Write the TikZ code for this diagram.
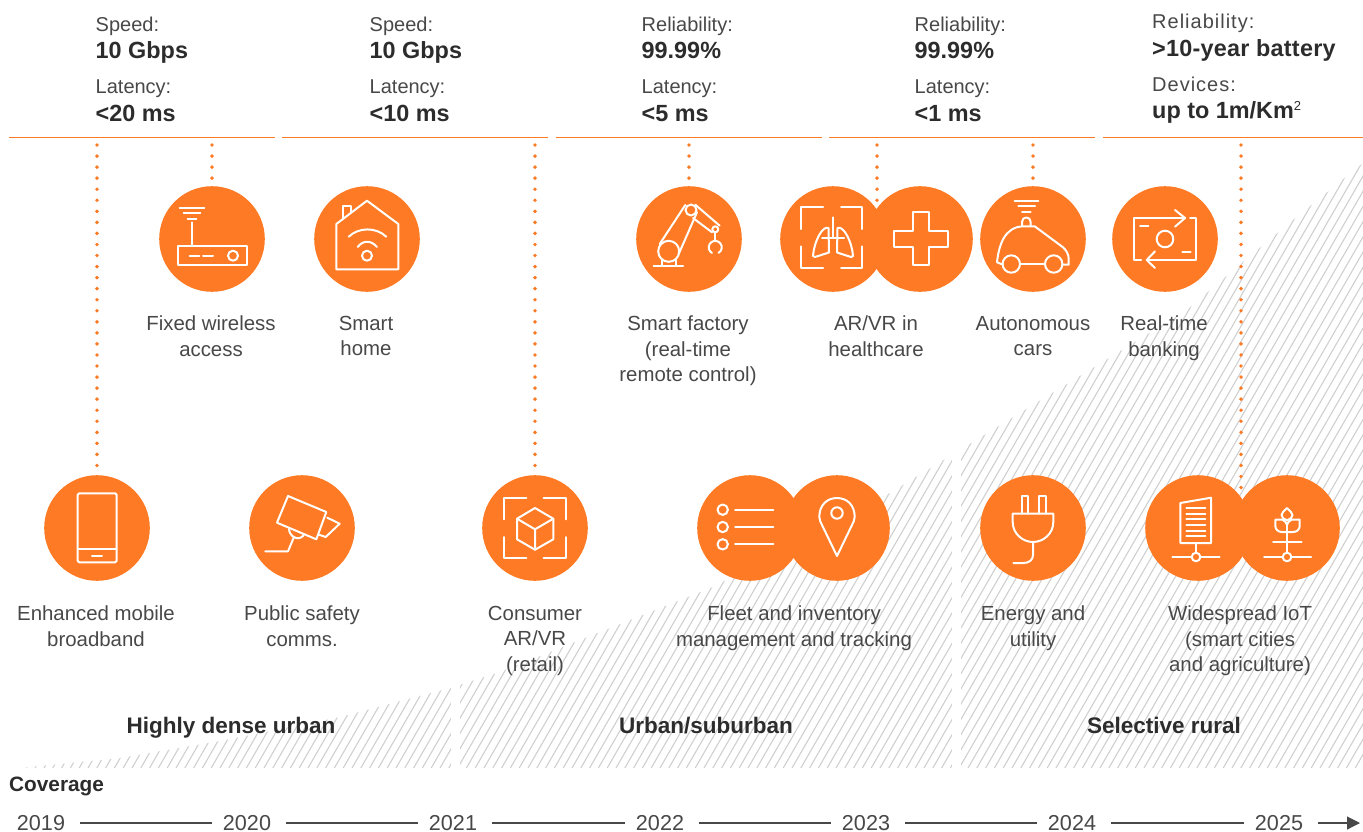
\documentclass[tikz,border=0pt]{standalone}
\usepackage{fontspec}
\setmainfont{Liberation Sans}
\usetikzlibrary{arrows.meta}
\definecolor{fiveg}{HTML}{FF7A24}
\definecolor{hatchgrey}{HTML}{CFCFCF}
\definecolor{plaintext}{HTML}{484848}
\definecolor{strongtext}{HTML}{2C2C2C}
\tikzset{
  ball/.style={circle,fill=fiveg,minimum size=105.6pt,inner sep=0pt},
  iconline/.style={draw=white,line width=2pt,line join=round,line cap=round},
  dotline/.style={draw=fiveg,line width=3.9pt,line cap=round,dash pattern=on 0pt off 11.05pt},
  rulerline/.style={draw=fiveg,line width=1.5pt},
  hatchline/.style={draw=hatchgrey,line width=1.1pt},
  plainlabel/.style={font=\fontsize{20.4}{25.5}\selectfont,text=plaintext,align=center,anchor=north,inner sep=0pt},
  headplain/.style={font=\fontsize{20}{24}\selectfont,text=plaintext,anchor=base west,inner sep=0pt},
  headstrong/.style={font=\fontsize{23.4}{26}\selectfont\bfseries,text=strongtext,anchor=base west,inner sep=0pt},
  zonelabel/.style={font=\fontsize{22.5}{26}\selectfont\bfseries,text=strongtext,anchor=base,inner sep=0pt},
  yearlabel/.style={font=\fontsize{21.6}{24}\selectfont,text=plaintext,inner sep=0pt},
  yearline/.style={draw=plaintext,line width=1.1pt,shorten <=15pt,shorten >=11pt}
}
\begin{document}
\begin{tikzpicture}
  [x=1pt,y=-1pt]
  \useasboundingbox (0,0) rectangle (1363,831);
  \begin{scope}
    \clip (20,768) -- (120,758) -- (220,741) -- (340,717) -- (450,688) -- (500,672) -- (713,587)
      -- (890,493) -- (960,450) -- (1187,310) -- (1237,267) -- (1293,220) -- (1363,163) -- (1363,768) -- cycle;
    \foreach \hx in {0,8.8,...,1370}
      \draw[hatchline] (\hx,768) -- ++(370,-640);
  \end{scope}
  \fill[white] (451,660) rectangle (460,770);
  \fill[white] (952,430) rectangle (961,770);

  \foreach \name/\x/\y in {router/212/239,home/367/239,factory/689/239,lung/833/239,
    cross/920/239,car/1033/239,bank/1165/239,phone/97/528,camera/302/528,arvr/535/528,
    fleet/750/528,pin/837/528,plug/1033/528,server/1198/528,plant/1287/528}
    \node[ball] (\name) at (\x,\y) {};

  \foreach \from/\to in {9/275,282/548,556/822,829/1095,1103/1363}
    \draw[rulerline] (\from,137.5) -- (\to,137.5);

  \coordinate (lungdots) at (877,205);
  \coordinate (plantdots) at (1241,491);
  \foreach \x/\to in {97/phone.north,212/router.north,535/arvr.north,689/factory.north,
    877/lungdots,1033/car.north,1241/plantdots}
    \draw[dotline] (\x,145) -- (\to);

  \foreach \col/\x/\aa/\bb/\cc/\dd in {1/95.5/Speed:/10 Gbps/Latency:/{<20 ms},
    2/369.5/Speed:/10 Gbps/Latency:/{<10 ms},3/641.5/Reliability:/99.99\%/Latency:/{<5 ms},
    4/914.5/Reliability:/99.99\%/Latency:/{<1 ms}}
  {
    \node[headplain] (head\col a) at (\x,31) {\aa};
    \node[headstrong] (head\col b) at (\x,58) {\bb};
    \node[headplain] (head\col c) at (\x,93) {\cc};
    \node[headstrong] (head\col d) at (\x,121) {\dd};
  }
  \node[headplain] (head5a) at (1152,28) {\addfontfeature{LetterSpace=5}Reliability:};
  \node[headstrong] (head5b) at (1152,56) {\addfontfeature{LetterSpace=1}>10-year battery};
  \node[headplain] (head5c) at (1152,91) {\addfontfeature{LetterSpace=5}Devices:};
  \node[headstrong] (head5d) at (1152,118) {up to 1m/Km\raisebox{8pt}{\fontsize{13}{13}\selectfont\mdseries 2}};

  \foreach \name/\x/\y/\txt in {
    routerlabel/211/316/{Fixed wireless\\access},
    homelabel/366/316/{Smart\\home},
    factorylabel/688/316/{Smart factory\\(real-time\\remote control)},
    lunglabel/876/316/{AR/VR in\\healthcare},
    carlabel/1033/316/{Autonomous\\cars},
    banklabel/1164/316/{Real-time\\banking},
    phonelabel/96/606/{Enhanced mobile\\broadband},
    cameralabel/302/606/{Public safety\\comms.},
    arvrlabel/535/606/{Consumer\\AR/VR\\(retail)},
    fleetlabel/794/606/{Fleet and inventory\\management and tracking},
    pluglabel/1033/606/{Energy and\\utility},
    plantlabel/1240/606/{Widespread IoT\\(smart cities\\and agriculture)}}
    \node[plainlabel] (\name) at (\x,\y) {\txt};

  \node[zonelabel] (urban) at (231,733) {Highly dense urban};
  \node[zonelabel] (suburban) at (706,733) {Urban/suburban};
  \node[zonelabel] (rural) at (1164,733) {Selective rural};
  \node[font=\fontsize{20.8}{24}\selectfont\bfseries,text=strongtext,anchor=base west,inner sep=0pt] (coverage) at (9,791) {Coverage};

  \foreach \yr/\x in {2019/41,2020/247,2021/453,2022/660,2023/866,2024/1072,2025/1279}
    \node[yearlabel] (y\yr) at (\x,823) {\yr};
  \coordinate (axisend) at (1360,823);
  \foreach \from/\to in {2019/2020,2020/2021,2021/2022,2022/2023,2023/2024,2024/2025}
    \draw[yearline] (y\from) -- (y\to);
  \draw[yearline,shorten >=0pt,-{Triangle[length=13pt,width=13pt]}] (y2025) -- (axisend);

  \begin{scope}[shift={(router)},iconline]
    \draw (-32.3,-30.7) -- (-7.7,-30.7) (-28.3,-25.7) -- (-11.7,-25.7) (-24.3,-20.3) -- (-15.7,-20.3);
    \draw (-20,-16.7) -- (-20,6.7);
    \draw (-34.3,6.7) rectangle (34.7,26.3);
    \draw (-22.3,16.7) -- (-12.7,16.7) (-9,16.7) -- (1,16.7);
    \draw (21,16.7) circle (5);
  \end{scope}
  \begin{scope}[shift={(home)},iconline]
    \draw (-30.7,30.3) -- (-30.7,-15) -- (0,-38.3) -- (31.3,-15) -- (31.3,30.3) -- cycle;
    \draw (-24.3,-20) -- (-24.3,-33.3) -- (-16,-33.3) -- (-16,-27.5);
    \draw (-18.3,-2.3) .. controls (-8,-12) and (9,-12) .. (19.3,-2.3);
    \draw (-9.3,8) .. controls (-4,1) and (4,1) .. (10,8);
    \draw (0,16.7) circle (5);
  \end{scope}
  \begin{scope}[shift={(factory)},iconline]
    \draw (-35.3,26.7) -- (-6,26.7);
    \draw (-20.3,12.3) circle (10.5);
    \draw (2,-29) circle (5.5);
    \draw (-29.3,5) -- (-3.7,-34) (-10.3,15) -- (8,-26.7);
    \draw (-27,21) -- (-27,26.7) (-13,21) -- (-13,26.7);
    \draw (6.3,-34.3) -- (30.7,-13.3) (4,-21) -- (23,-6.7);
    \draw (26.3,-9.7) circle (3);
    \draw (26.3,-6.7) -- (26.3,1.7);
    \draw (23,14) arc[start angle=120,end angle=420,radius=6.5];
  \end{scope}
  \begin{scope}[shift={(lung)},iconline]
    \draw (-32,-10) -- (-32,-31.7) -- (-10,-31.7) (8,-31.7) -- (29.3,-31.7) -- (29.3,-10);
    \draw (-32,7.3) -- (-32,28.7) -- (-10,28.7) (8,28.7) -- (29.3,28.7) -- (29.3,7.3);
    \draw (0,-21.7) -- (0,-1) (-11,-1) -- (11,-1);
    \draw (-4.5,-11) .. controls (-10,-14) and (-19,2) .. (-20,17) -- (-18,18) -- (-4,13.5) -- cycle;
    \draw (4.5,-11) .. controls (10,-14) and (19,2) .. (20,17) -- (18,18) -- (4,13.5) -- cycle;
  \end{scope}
  \begin{scope}[shift={(cross)},iconline]
    \draw (-6.7,-27.3) -- (9.3,-27.3) -- (9.3,-8.3) -- (28.3,-8.3) -- (28.3,7.7) -- (9.3,7.7)
      -- (9.3,26) -- (-6.7,26) -- (-6.7,7.7) -- (-26,7.7) -- (-26,-8.3) -- (-6.7,-8.3) -- cycle;
  \end{scope}
  \begin{scope}[shift={(car)},iconline]
    \draw (-18.3,-38) -- (5.3,-38) (-14.7,-32.7) -- (2,-32.7) (-11,-27) -- (-2.3,-27);
    \draw (-11,-13.3) -- (-11,-17) .. controls (-11,-23) and (-2.3,-23) .. (-2.3,-17) -- (-2.3,-13);
    \draw (-30.4,25.5) -- (-36,23.3) .. controls (-34,5) and (-28,-12) .. (-10,-12.7) -- (1.7,-12.7)
      -- (30,8.3) .. controls (33,11) and (35.7,15) .. (35.7,20) -- (35.7,25.7) -- (29.4,25.5);
    \draw (-21.7,25) circle (8.7);
    \draw (20.7,25) circle (8.7);
    \draw (-13,25) -- (12,25);
  \end{scope}
  \begin{scope}[shift={(bank)},iconline]
    \draw (-24,21) -- (-31,21) -- (-31,-21) -- (20,-21);
    \draw (10,-29) -- (20,-21) -- (10,-12.3);
    \draw (25,-21) -- (31,-21) -- (31,21) -- (-18.3,21);
    \draw (-10,12.3) -- (-18.3,21) -- (-10,29);
    \draw (0,0) circle (8.3);
    \draw (-25,-13) -- (-16.7,-13) (17.3,13) -- (25.7,13);
  \end{scope}
  \begin{scope}[shift={(phone)},iconline]
    \draw[rounded corners=1.5pt] (-19.3,-34.7) rectangle (19.7,34.3);
    \draw (-19.3,20.7) -- (19.7,20.7);
    \draw (-5,27.7) -- (5,27.7);
  \end{scope}
  \begin{scope}[shift={(camera)},iconline]
    \draw (-14,-32) -- (24.3,-16) -- (14.3,11.3) -- (-25,-5.3) -- cycle;
    \draw (25.3,-10.3) -- (37.7,-4.3) -- (23.7,9) -- (17,6.7);
    \draw (-13,0.7) .. controls (-13,8) and (-4,14) .. (1.7,7.3);
    \draw (-8.3,9.7) -- (-14,23.3) -- (-36.7,23.3);
  \end{scope}
  \begin{scope}[shift={(arvr)},iconline]
    \draw (-30.7,-8.7) -- (-30.7,-30.3) -- (-8.7,-30.3) (8.7,-30.3) -- (30.7,-30.3) -- (30.7,-8.7);
    \draw (-30.7,9) -- (-30.7,30.3) -- (-8.7,30.3) (8.7,30.3) -- (30.7,30.3) -- (30.7,9);
    \draw (0,-20) -- (18.3,-9.3) -- (18.3,11.3) -- (0,21.7) -- (-18,11.3) -- (-18,-9.3) -- cycle;
    \draw (-18,-9.3) -- (0,1.3) -- (18.3,-9.3) (0,1.3) -- (0,21.7);
  \end{scope}
  \begin{scope}[shift={(fleet)},iconline]
    \foreach \rowy in {-18.3,-1,16.3}
    {
      \draw (-27.3,\rowy) circle (5.2);
      \draw (-15,\rowy) -- (23.3,\rowy);
    }
  \end{scope}
  \begin{scope}[shift={(pin)},iconline]
    \draw (0,28) -- (-15,-3) .. controls (-16,-5) and (-17.7,-8) .. (-17.7,-11)
      .. controls (-17.7,-23) and (-10,-30) .. (0,-30) .. controls (10,-30) and (17.7,-23) .. (17.7,-11)
      .. controls (17.7,-8) and (16,-5) .. (15,-3) -- cycle;
    \draw (0,-15) circle (5.7);
  \end{scope}
  \begin{scope}[shift={(plug)},iconline]
    \draw (-11.3,-14.3) -- (-11.3,-31.7) -- (-4.7,-31.7) -- (-4.7,-14.3);
    \draw (6,-14.3) -- (6,-31.7) -- (13,-31.7) -- (13,-14.3);
    \draw (-20.3,-14.3) -- (20.3,-14.3) -- (20.3,-6) .. controls (20.3,6) and (10,14) .. (0,14)
      .. controls (-10,14) and (-20.3,6) .. (-20.3,-6) -- cycle;
    \draw (0,14) -- (0,27) .. controls (0,32) and (-4,35) .. (-9.7,35) -- (-19.7,35);
  \end{scope}
  \begin{scope}[shift={(server)},iconline]
    \draw (-17.7,-25) -- (13,-30.3) -- (13,15) -- (-17.7,15) -- cycle;
    \foreach \rowy in {-20,-14.3,-8.7,-3,2.7,8.3}
      \draw (-11.7,\rowy) -- (7.3,\rowy);
    \draw (-2,15) -- (-2,24.7);
    \draw (-2,29) circle (4.3);
    \draw (-25.7,29) -- (-6.3,29) (2.3,29) -- (21.7,29);
  \end{scope}
  \begin{scope}[shift={(plant)},iconline]
    \draw (0,29) circle (4.3);
    \draw (-23,29) -- (-4.3,29) (4.3,29) -- (24,29);
    \draw (0,-2.7) -- (0,24.7);
    \draw (-14,14.3) -- (14.7,14.3);
    \draw (0,-20) .. controls (3,-17) and (5.5,-15) .. (5.5,-13) .. controls (5.5,-10) and (3,-9) .. (0,-7.7)
      .. controls (-3,-9) and (-5.5,-10) .. (-5.5,-13) .. controls (-5.5,-15) and (-3,-17) .. (0,-20) -- cycle;
    \draw (-4,-8.3) -- (-11.7,-8.3) -- (-11.7,-2) .. controls (-11.7,2) and (-8,4) .. (-5,4) -- (6,4)
      .. controls (9,4) and (12.7,2) .. (12.7,-2) -- (12.7,-8.3) -- (4.3,-8.3);
    \draw (-4.5,-8.3) .. controls (-2,-7) and (0,-5) .. (0,-3) .. controls (0,-5) and (2,-7) .. (4.5,-8.3);
  \end{scope}
\end{tikzpicture}
\end{document}
